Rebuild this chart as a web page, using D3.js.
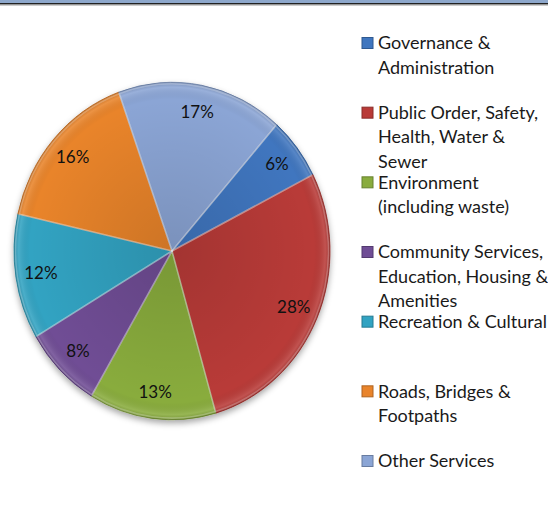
<!DOCTYPE html>
<html>
<head>
<meta charset="utf-8">
<script src="https://cdn.jsdelivr.net/npm/d3@7"></script>
<style>
  body { margin: 0; background: #fff; }
  svg { display: block; }
  text { font-family: Lato, "Open Sans", sans-serif; }
</style>
</head>
<body>
<div id="chart"></div>
<script>
// categories and shares (percent), clockwise from top right
var categories = [
    "Governance & Administration",
    "Public Order, Safety, Health, Water & Sewer",
    "Environment (including waste)",
    "Community Services, Education, Housing & Amenities",
    "Recreation & Cultural",
    "Roads, Bridges & Footpaths",
    "Other Services"
];
var shares = [6, 28, 13, 8, 12, 16, 17];
var legendLines = [
    ["Governance &", "Administration"],
    ["Public Order, Safety,", "Health, Water &", "Sewer"],
    ["Environment", "(including waste)"],
    ["Community Services,", "Education, Housing &", "Amenities"],
    ["Recreation & Cultural"],
    ["Roads, Bridges &", "Footpaths"],
    ["Other Services"]
];
var colors = ["#3f76bf", "#b93a37", "#89ac3e", "#6f4d95", "#31a3c2", "#e9842b", "#8ba5d5"];

var width = 548, height = 530;
var cx = 172, cy = 251, r = 158, yStretch = 1.068;

var svg = d3.select("#chart").append("svg")
    .attr("width", width)
    .attr("height", height);

var defs = svg.append("defs");

var shadow = defs.append("filter")
    .attr("id", "shadow")
    .attr("x", "-20%").attr("y", "-20%")
    .attr("width", "140%").attr("height", "140%");
shadow.append("feDropShadow")
    .attr("dx", 0).attr("dy", 3)
    .attr("stdDeviation", 3)
    .attr("flood-color", "#000")
    .attr("flood-opacity", 0.35);

// soft shading: lighter rim, a bit darker toward the centre
var shade = defs.append("radialGradient")
    .attr("id", "shade")
    .attr("gradientUnits", "userSpaceOnUse")
    .attr("cx", 0).attr("cy", 0).attr("r", r);
shade.append("stop").attr("offset", "0%").attr("stop-color", "#000").attr("stop-opacity", 0.12);
shade.append("stop").attr("offset", "90%").attr("stop-color", "#000").attr("stop-opacity", 0);
shade.append("stop").attr("offset", "97%").attr("stop-color", "#fff").attr("stop-opacity", 0.12);
shade.append("stop").attr("offset", "100%").attr("stop-color", "#000").attr("stop-opacity", 0.15);

// top border
svg.append("rect").attr("x", 0).attr("y", 0).attr("width", width).attr("height", 3).attr("fill", "#8ea8cc");
svg.append("rect").attr("x", 0).attr("y", 3).attr("width", width).attr("height", 1.5).attr("fill", "#222");
svg.append("rect").attr("x", 0).attr("y", 4.5).attr("width", width).attr("height", 1).attr("fill", "#9a9a9a");

var data = categories.map(function (c, i) {
    return { name: c, value: shares[i], color: colors[i] };
});

var startAngle = 41.5 * Math.PI / 180;
var pie = d3.pie()
    .sort(null)
    .value(function (d) { return d.value; })
    .startAngle(startAngle)
    .endAngle(startAngle + 2 * Math.PI);

var arc = d3.arc().innerRadius(0).outerRadius(r);
var labelArc = d3.arc().innerRadius(r * 0.84).outerRadius(r * 0.84);

var g = svg.append("g")
    .attr("transform", "translate(" + cx + "," + cy + ") scale(1," + yStretch + ")");

var arcs = pie(data);

var slices = g.append("g").attr("filter", "url(#shadow)");
slices.selectAll("path.slice")
    .data(arcs)
    .enter()
    .append("path")
    .attr("class", "slice")
    .attr("d", arc)
    .attr("fill", function (d) { return d.data.color; })
    .attr("stroke", function (d) { return d3.color(d.data.color).darker(0.6); })
    .attr("stroke-width", 0.8);

g.selectAll("path.shade")
    .data(arcs)
    .enter()
    .append("path")
    .attr("class", "shade")
    .attr("d", arc)
    .attr("fill", "url(#shade)");

// inner highlight along slice edges
g.selectAll("path.hl")
    .data(arcs)
    .enter()
    .append("path")
    .attr("class", "hl")
    .attr("d", d3.arc().innerRadius(0).outerRadius(r - 1.5))
    .attr("fill", "none")
    .attr("stroke", "#fff")
    .attr("stroke-opacity", 0.25)
    .attr("stroke-width", 1.5);

g.selectAll("text.pct")
    .data(arcs)
    .enter()
    .append("text")
    .attr("class", "pct")
    .attr("transform", function (d) {
        var c = labelArc.centroid(d);
        return "translate(" + c[0] + "," + c[1] + ") scale(1," + (1 / yStretch) + ")";
    })
    .attr("text-anchor", "middle")
    .attr("dy", "0.35em")
    .attr("font-size", 17)
    .attr("fill", "#111")
    .text(function (d) { return d.data.value + "%"; });

// legend
var legend = svg.append("g").attr("transform", "translate(362,0)");
var rowY = d3.scaleLinear().domain([0, data.length - 1]).range([43, 461]);

var items = legend.selectAll("g.item")
    .data(data)
    .enter()
    .append("g")
    .attr("class", "item")
    .attr("transform", function (d, i) { return "translate(0," + rowY(i) + ")"; });

items.append("rect")
    .attr("x", 0).attr("y", -5.5)
    .attr("width", 11).attr("height", 11)
    .attr("fill", function (d) { return d.color; })
    .attr("stroke", function (d) { return d3.color(d.color).darker(0.8); })
    .attr("stroke-width", 1);

items.append("text")
    .attr("x", 16)
    .attr("font-size", 18)
    .attr("fill", "#1a1a1a")
    .selectAll("tspan")
    .data(function (d, i) { return legendLines[i]; })
    .enter()
    .append("tspan")
    .attr("x", 16)
    .attr("y", function (d, j) { return j * 24.5; })
    .attr("dy", "0.35em")
    .text(function (d) { return d; });
</script>
</body>
</html>
